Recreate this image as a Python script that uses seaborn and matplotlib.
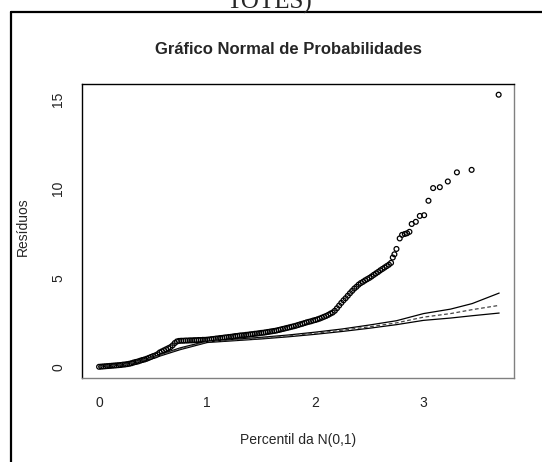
import numpy as np
import pandas as pd
import seaborn as sns
import matplotlib.pyplot as plt
from matplotlib.lines import Line2D

pct_x = [0.00, 0.02, 0.04, 0.06, 0.08, 0.10, 0.12, 0.14, 0.16, 0.18,
         0.20, 0.22, 0.24, 0.26, 0.28, 0.30, 0.32, 0.34, 0.36, 0.38,
         0.40, 0.42, 0.44, 0.46, 0.48, 0.50, 0.52, 0.54, 0.56, 0.58,
         0.60, 0.62, 0.64, 0.66, 0.68, 0.70, 0.72, 0.74, 0.76, 0.78,
         0.80, 0.82, 0.84, 0.86, 0.88, 0.90, 0.92, 0.94, 0.96, 0.98,
         1.00, 1.02, 1.04, 1.06, 1.08, 1.10, 1.12, 1.14, 1.16, 1.18,
         1.20, 1.22, 1.24, 1.26, 1.28, 1.30, 1.32, 1.34, 1.36, 1.38,
         1.40, 1.42, 1.44, 1.46, 1.48, 1.50, 1.52, 1.54, 1.56, 1.58,
         1.60, 1.62, 1.64, 1.66, 1.68, 1.70, 1.72, 1.74, 1.76, 1.78,
         1.80, 1.82, 1.84, 1.86, 1.88, 1.90, 1.92, 1.94, 1.96, 1.98,
         2.00, 2.02, 2.04, 2.06, 2.08, 2.10, 2.12, 2.14, 2.16, 2.18,
         2.20, 2.22, 2.24, 2.26, 2.28, 2.30, 2.32, 2.34, 2.36, 2.38,
         2.40, 2.42, 2.44, 2.46, 2.48, 2.50, 2.52, 2.54, 2.56, 2.58,
         2.60, 2.62, 2.64, 2.66, 2.68, 2.70,
         2.716, 2.731, 2.750, 2.780, 2.802, 2.827, 2.848, 2.870, 2.891, 2.929,
         2.966, 3.006, 3.046, 3.089, 3.151, 3.225, 3.309, 3.445, 3.695]
resid = [0.02, 0.03, 0.04, 0.05, 0.06, 0.07, 0.08, 0.09, 0.10, 0.11,
         0.12, 0.14, 0.15, 0.17, 0.19, 0.22, 0.26, 0.29, 0.32, 0.36,
         0.40, 0.43, 0.47, 0.52, 0.57, 0.62, 0.66, 0.72, 0.82, 0.88,
         0.94, 1.00, 1.06, 1.12, 1.22, 1.35, 1.44, 1.47, 1.48, 1.48,
         1.49, 1.49, 1.50, 1.50, 1.51, 1.51, 1.52, 1.52, 1.53, 1.53,
         1.54, 1.55, 1.57, 1.58, 1.60, 1.61, 1.63, 1.64, 1.66, 1.67,
         1.69, 1.70, 1.72, 1.74, 1.75, 1.77, 1.78, 1.79, 1.81, 1.82,
         1.84, 1.85, 1.87, 1.88, 1.90, 1.92, 1.93, 1.95, 1.97, 1.99,
         2.01, 2.03, 2.05, 2.08, 2.11, 2.14, 2.17, 2.20, 2.23, 2.26,
         2.29, 2.32, 2.36, 2.40, 2.43, 2.47, 2.51, 2.54, 2.57, 2.61,
         2.64, 2.68, 2.72, 2.77, 2.82, 2.87, 2.93, 3.00, 3.06, 3.16,
         3.30, 3.45, 3.60, 3.74, 3.86, 4.00, 4.14, 4.27, 4.40, 4.50,
         4.62, 4.71, 4.78, 4.86, 4.93, 5.00, 5.08, 5.17, 5.25, 5.33,
         5.42, 5.50, 5.58, 5.66, 5.74, 5.84,
         6.14, 6.32, 6.62, 7.21, 7.41, 7.46, 7.50, 7.58, 8.02, 8.14,
         8.47, 8.51, 9.32, 10.03, 10.08, 10.40, 10.91, 11.05, 15.26]

# simulated envelope
env_x = [0.00, 0.25, 0.50, 0.75, 1.00, 1.25, 1.50, 1.75, 2.00, 2.25, 2.50, 2.75, 3.00, 3.25, 3.45, 3.70]
env_low = [0.02, 0.14, 0.50, 0.98, 1.38, 1.48, 1.58, 1.70, 1.84, 2.00, 2.18, 2.38, 2.62, 2.75, 2.88, 3.03]
env_mid = [0.03, 0.16, 0.54, 1.03, 1.42, 1.52, 1.62, 1.75, 1.90, 2.07, 2.26, 2.48, 2.80, 3.00, 3.22, 3.46]
env_upp = [0.04, 0.18, 0.58, 1.08, 1.46, 1.56, 1.67, 1.80, 1.96, 2.14, 2.36, 2.60, 3.00, 3.25, 3.56, 4.15]

x_ticks = [0, 1, 2, 3]
y_ticks = [0, 5, 10, 15]

pts = pd.DataFrame({"x": pct_x, "y": resid})
env = pd.DataFrame({"x": env_x, "low": env_low, "mid": env_mid, "upp": env_upp})

sns.set_style("white")
plt.rcParams["font.family"] = ["Liberation Sans", "DejaVu Sans"]

W, H = 542, 462
fig = plt.figure(figsize=(W / 100, H / 100), dpi=100)
ax = fig.add_axes([82 / W, 1 - 377.5 / H, (514 - 82) / W, (377.5 - 84) / H])

sns.lineplot(data=env, x="x", y="low", ax=ax, color="black", lw=0.9)
sns.lineplot(data=env, x="x", y="upp", ax=ax, color="black", lw=0.9)
sns.lineplot(data=env, x="x", y="mid", ax=ax, color="#444444", lw=0.9, linestyle=(0, (3, 2)))
sns.scatterplot(data=pts, x="x", y="y", ax=ax, s=12, marker="o",
                facecolors="none", edgecolor="black", linewidth=0.9)

ax.set_xlim(-0.158, 3.837)
ax.set_ylim(-0.58, 15.86)
ax.set_xticks(x_ticks)
ax.set_yticks(y_ticks)
ax.set_xlabel("")
ax.set_ylabel("")
ax.tick_params(axis="both", direction="out", length=6, width=0.8, color="#555555",
               labelsize=10, labelcolor="#222222")
ax.tick_params(axis="x", pad=7)
ax.tick_params(axis="y", pad=6)
for lab in ax.get_yticklabels():
    lab.set_rotation(90)
    lab.set_va("center")

for side in ["left", "top"]:
    ax.spines[side].set_color("black")
for side in ["right", "bottom"]:
    ax.spines[side].set_color("#808080")
for sp in ax.spines.values():
    sp.set_linewidth(1.0)

fig.text(288 / W, 1 - 49 / H, "Gráfico Normal de Probabilidades",
         ha="center", va="center", fontsize=12, fontweight="bold")
fig.text(298 / W, 1 - 440 / H, "Percentil da N(0,1)", ha="center", va="center", fontsize=10)
fig.text(23 / W, 1 - 227 / H, "Resíduos", ha="center", va="center", rotation=90, fontsize=10)

# surrounding document frame and clipped heading above it
fig.add_artist(Line2D([11 / W, 11 / W], [0, 1 - 12 / H], transform=fig.transFigure,
                      color="black", lw=1.6))
fig.add_artist(Line2D([11 / W, 1], [1 - 12 / H, 1 - 12 / H], transform=fig.transFigure,
                      color="black", lw=1.6))
fig.text(269 / W, 1 - 9 / H, "TOTES)", ha="center", va="baseline",
         fontsize=18, family=["Liberation Serif", "DejaVu Serif"])

fig.savefig("out.png", dpi=100)
